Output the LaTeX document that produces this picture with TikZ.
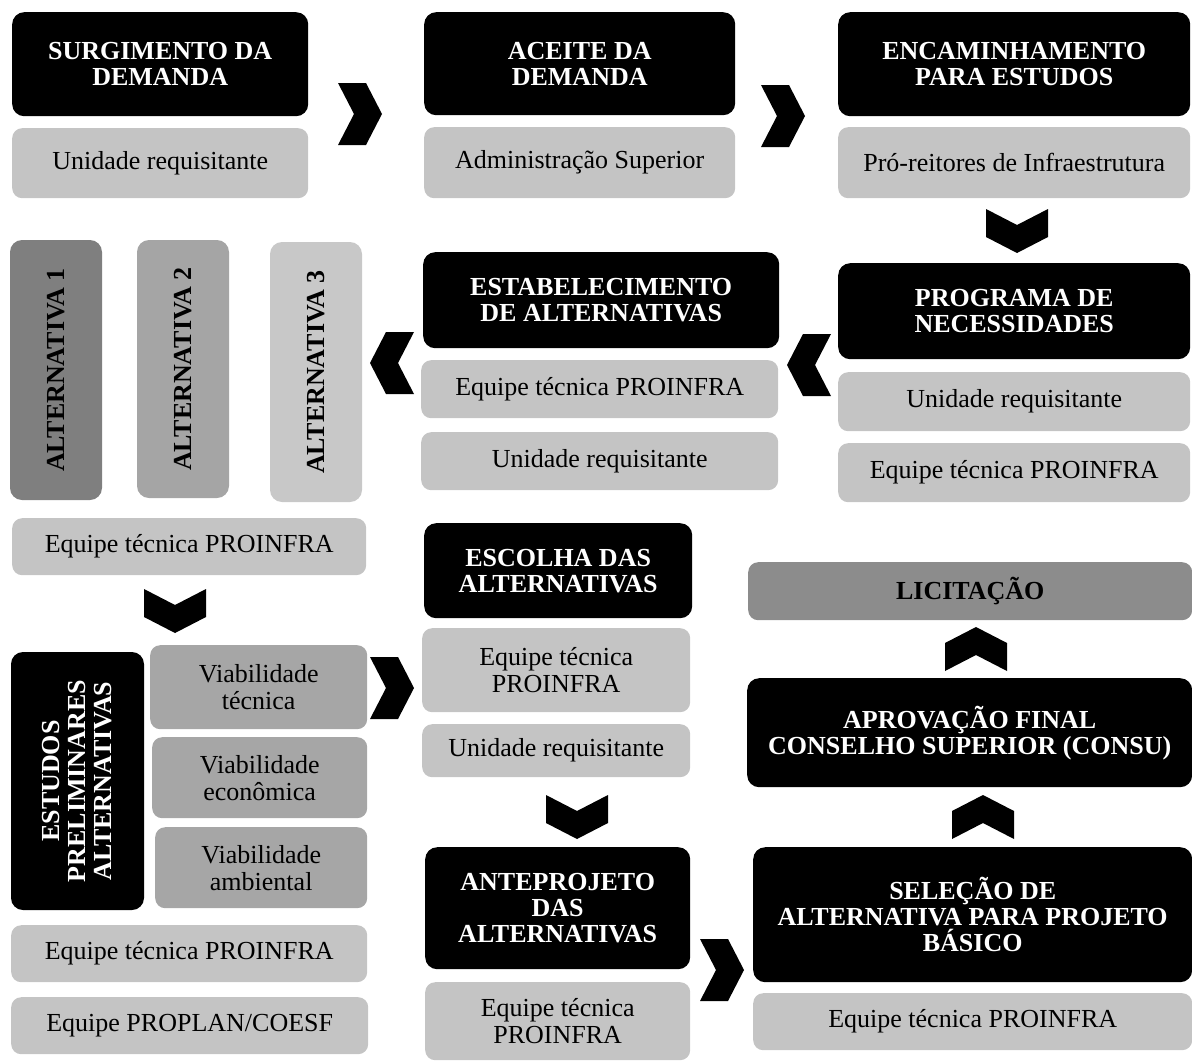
\documentclass[tikz,border=0pt]{standalone}
\usepackage{fontspec}
\setmainfont{Liberation Serif}
\definecolor{cinza}{HTML}{C4C4C4}
\definecolor{alta}{HTML}{7F7F7F}
\definecolor{altb}{HTML}{A5A5A5}
\definecolor{altc}{HTML}{C8C8C8}
\definecolor{viab}{HTML}{A6A6A6}
\definecolor{licit}{HTML}{8C8C8C}
\tikzset{
  etapa/.style={fill=black, text=white, rounded corners=12pt, inner sep=0pt, anchor=north west,
    align=center, font=\bfseries\fontsize{26}{26}\selectfont},
  resp/.style={fill=cinza, text=black, rounded corners=10pt, inner sep=0pt, anchor=north west,
    align=center, font=\fontsize{26}{27}\selectfont},
  altbox/.style={rounded corners=12pt, inner sep=0pt, rotate=90, text=black,
    font=\bfseries\fontsize{26}{26}\selectfont},
  chevron/.pic={\fill[black] (-22,-31) -- (6,-31) -- (22,0) -- (6,31) -- (-22,31) -- (-6,0) -- cycle;}
}
\begin{document}
\begin{tikzpicture}[x=1pt,y=-1pt]
\useasboundingbox (0,0) rectangle (1192,1063);
% linha de cima
\node[etapa, minimum width=296, minimum height=104] (surg) at (12,12) {SURGIMENTO DA\\DEMANDA};
\node[resp, minimum width=296, minimum height=70] (surgR) at (12,128) {Unidade requisitante};
\node[etapa, minimum width=311, minimum height=103] (aceite) at (424,12) {ACEITE DA\\DEMANDA};
\node[resp, minimum width=311, minimum height=71] (aceiteR) at (424,127) {Administração Superior};
\node[etapa, minimum width=352, minimum height=104] (encam) at (838,12) {ENCAMINHAMENTO\\PARA ESTUDOS};
\node[resp, minimum width=352, minimum height=71] (encamR) at (838,127) {Pró-reitores de Infraestrutura};
% segunda linha
\node[etapa, minimum width=352, minimum height=96] (prog) at (838,263) {PROGRAMA DE\\NECESSIDADES};
\node[resp, minimum width=352, minimum height=59] (progR1) at (838,372) {Unidade requisitante};
\node[resp, minimum width=352, minimum height=59] (progR2) at (838,443) {Equipe técnica PROINFRA};
\node[etapa, minimum width=356, minimum height=96] (estab) at (423,252) {ESTABELECIMENTO\\DE ALTERNATIVAS};
\node[resp, minimum width=357, minimum height=58] (estabR1) at (421,360) {Equipe técnica PROINFRA};
\node[resp, minimum width=357, minimum height=58] (estabR2) at (421,432) {Unidade requisitante};
\node[altbox, fill=alta, minimum width=260, minimum height=92] (alt1) at (56,370) {ALTERNATIVA 1};
\node[altbox, fill=altb, minimum width=258, minimum height=92] (alt2) at (183,369) {ALTERNATIVA 2};
\node[altbox, fill=altc, minimum width=260, minimum height=92] (alt3) at (316,372) {ALTERNATIVA 3};
\node[resp, minimum width=354, minimum height=57] (altR) at (12,518) {Equipe técnica PROINFRA};
% estudos preliminares
\node[altbox, fill=black, text=white, align=center, minimum width=258, minimum height=133] (estudos)
  at (77.5,781) {ESTUDOS\\PRELIMINARES\\ALTERNATIVAS};
\node[resp, fill=viab, minimum width=217, minimum height=84] (viab1) at (150,645) {Viabilidade\\técnica};
\node[resp, fill=viab, minimum width=215, minimum height=81] (viab2) at (152,737) {Viabilidade\\econômica};
\node[resp, fill=viab, minimum width=212, minimum height=81] (viab3) at (155,827) {Viabilidade\\ambiental};
\node[resp, minimum width=356, minimum height=57] (estR1) at (11,925) {Equipe técnica PROINFRA};
\node[resp, minimum width=357, minimum height=57] (estR2) at (11,997) {Equipe PROPLAN/COESF};
% coluna do meio
\node[etapa, minimum width=268, minimum height=95] (escolha) at (424,523) {ESCOLHA DAS\\ALTERNATIVAS};
\node[resp, minimum width=268, minimum height=84] (escR1) at (422,628) {Equipe técnica\\PROINFRA};
\node[resp, minimum width=268, minimum height=53] (escR2) at (422,724) {Unidade requisitante};
\node[etapa, minimum width=265, minimum height=122] (antep) at (425,847) {ANTEPROJETO\\DAS\\ALTERNATIVAS};
\node[resp, minimum width=265, minimum height=78] (antepR) at (425,982) {Equipe técnica\\PROINFRA};
% coluna da direita
\node[resp, fill=licit, minimum width=444, minimum height=58, font=\bfseries\fontsize{26}{26}\selectfont]
  (licit) at (748,562) {LICITAÇÃO};
\node[etapa, minimum width=445, minimum height=109] (aprov) at (747,678) {APROVAÇÃO FINAL\\CONSELHO SUPERIOR (CONSU)};
\node[etapa, minimum width=439, minimum height=135] (selec) at (753,847) {SELEÇÃO DE\\ALTERNATIVA PARA PROJETO\\BÁSICO};
\node[resp, minimum width=439, minimum height=57] (selecR) at (753,993) {Equipe técnica PROINFRA};
% setas
\pic at (360,114) {chevron};
\pic at (783,116) {chevron};
\pic[rotate=-90] at (1017,231) {chevron};
\pic[rotate=180] at (809,365) {chevron};
\pic[rotate=180] at (392,363) {chevron};
\pic[rotate=-90] at (175,611) {chevron};
\pic at (392,688) {chevron};
\pic[rotate=-90] at (577,817) {chevron};
\pic at (722,970) {chevron};
\pic[rotate=90] at (983,817) {chevron};
\pic[rotate=90] at (976,649) {chevron};
\end{tikzpicture}
\end{document}
